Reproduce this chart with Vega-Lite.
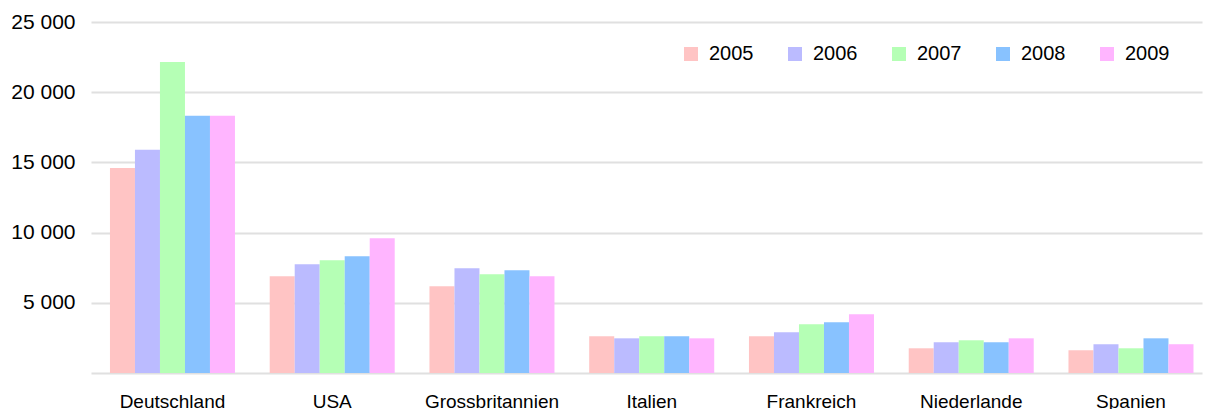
{
  "$schema": "https://vega.github.io/schema/vega-lite/v6.json",
  "width": 1111,
  "height": 351,
  "autosize": {"type": "none"},
  "padding": {"left": 91, "top": 22, "right": 3, "bottom": 36},
  "background": "white",
  "config": {
    "view": {"stroke": null},
    "font": "Liberation Sans"
  },
  "data": {
    "values": [
      {"land": "Deutschland", "jahr": "2005", "wert": 14600},
      {"land": "Deutschland", "jahr": "2006", "wert": 15900},
      {"land": "Deutschland", "jahr": "2007", "wert": 22150},
      {"land": "Deutschland", "jahr": "2008", "wert": 18320},
      {"land": "Deutschland", "jahr": "2009", "wert": 18320},
      {"land": "USA", "jahr": "2005", "wert": 6890},
      {"land": "USA", "jahr": "2006", "wert": 7750},
      {"land": "USA", "jahr": "2007", "wert": 8030},
      {"land": "USA", "jahr": "2008", "wert": 8320},
      {"land": "USA", "jahr": "2009", "wert": 9600},
      {"land": "Grossbritannien", "jahr": "2005", "wert": 6180},
      {"land": "Grossbritannien", "jahr": "2006", "wert": 7460},
      {"land": "Grossbritannien", "jahr": "2007", "wert": 7030},
      {"land": "Grossbritannien", "jahr": "2008", "wert": 7320},
      {"land": "Grossbritannien", "jahr": "2009", "wert": 6890},
      {"land": "Italien", "jahr": "2005", "wert": 2610},
      {"land": "Italien", "jahr": "2006", "wert": 2470},
      {"land": "Italien", "jahr": "2007", "wert": 2610},
      {"land": "Italien", "jahr": "2008", "wert": 2610},
      {"land": "Italien", "jahr": "2009", "wert": 2470},
      {"land": "Frankreich", "jahr": "2005", "wert": 2610},
      {"land": "Frankreich", "jahr": "2006", "wert": 2900},
      {"land": "Frankreich", "jahr": "2007", "wert": 3470},
      {"land": "Frankreich", "jahr": "2008", "wert": 3610},
      {"land": "Frankreich", "jahr": "2009", "wert": 4180},
      {"land": "Niederlande", "jahr": "2005", "wert": 1760},
      {"land": "Niederlande", "jahr": "2006", "wert": 2190},
      {"land": "Niederlande", "jahr": "2007", "wert": 2330},
      {"land": "Niederlande", "jahr": "2008", "wert": 2190},
      {"land": "Niederlande", "jahr": "2009", "wert": 2470},
      {"land": "Spanien", "jahr": "2005", "wert": 1620},
      {"land": "Spanien", "jahr": "2006", "wert": 2050},
      {"land": "Spanien", "jahr": "2007", "wert": 1760},
      {"land": "Spanien", "jahr": "2008", "wert": 2470},
      {"land": "Spanien", "jahr": "2009", "wert": 2050}
    ]
  },
  "mark": {"type": "bar"},
  "encoding": {
    "x": {
      "field": "land",
      "type": "nominal",
      "sort": null,
      "scale": {"paddingInner": 0.2175, "paddingOuter": 0.086, "align": 0.69},
      "axis": {
        "title": null,
        "labelAngle": 0,
        "domain": false,
        "ticks": false,
        "tickSize": 0,
        "labelPadding": 34,
        "labelBaseline": "alphabetic",
        "labelFontSize": 19,
        "labelColor": "#000000",
        "labelFont": "Liberation Sans"
      }
    },
    "xOffset": {
      "field": "jahr",
      "type": "nominal",
      "scale": {"paddingInner": 0, "paddingOuter": 0}
    },
    "y": {
      "field": "wert",
      "type": "quantitative",
      "scale": {"domain": [0, 25000], "nice": false},
      "axis": {
        "title": null,
        "values": [0, 5000, 10000, 15000, 20000, 25000],
        "labelExpr": "datum.value == 0 ? '' : replace(format(datum.value, ','), ',', ' ')",
        "domain": false,
        "ticks": false,
        "tickSize": 0,
        "labelPadding": 16,
        "labelFontSize": 21,
        "labelColor": "#000000",
        "labelFont": "Liberation Sans",
        "grid": true,
        "gridColor": "#e0e0e0",
        "gridWidth": 2
      }
    },
    "color": {
      "field": "jahr",
      "type": "nominal",
      "scale": {
        "domain": ["2005", "2006", "2007", "2008", "2009"],
        "range": ["#ffc4c4", "#bbbbff", "#b5ffb5", "#88c2ff", "#ffb5ff"]
      },
      "legend": {
        "title": null,
        "orient": "none",
        "direction": "horizontal",
        "legendX": 590,
        "legendY": 22,
        "padding": 0,
        "symbolType": "square",
        "symbolSize": 196,
        "symbolStrokeWidth": 0,
        "symbolOpacity": 1,
        "labelFontSize": 20,
        "labelFont": "Liberation Sans",
        "labelColor": "#000000",
        "labelOffset": 8,
        "columnPadding": 31
      }
    }
  }
}
